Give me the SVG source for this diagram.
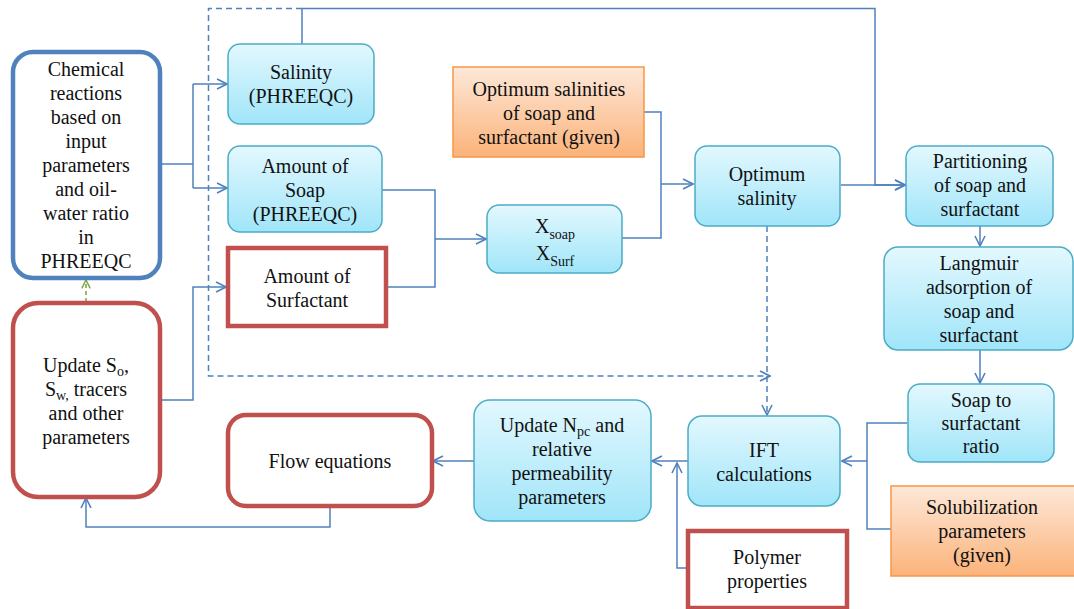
<svg xmlns="http://www.w3.org/2000/svg" width="1074" height="609" viewBox="0 0 1074 609">
<defs>
<linearGradient id="gb" x1="0" y1="0" x2="0" y2="1">
<stop offset="0" stop-color="#e3f8fe"/>
<stop offset="1" stop-color="#a0e5f9"/>
</linearGradient>
<linearGradient id="go" x1="0" y1="0" x2="0" y2="1">
<stop offset="0" stop-color="#fde8d9"/>
<stop offset="1" stop-color="#fbb37a"/>
</linearGradient>
<marker id="ar" viewBox="0 0 12 12" refX="11" refY="6" markerWidth="12" markerHeight="12" markerUnits="userSpaceOnUse" orient="auto">
<path d="M1,1 L11,6 L1,11" fill="none" stroke="#4f81bd" stroke-width="1.6"/>
</marker>
<marker id="ag" viewBox="0 0 12 12" refX="11" refY="6" markerWidth="10" markerHeight="10" markerUnits="userSpaceOnUse" orient="auto">
<path d="M1,1 L11,6 L1,11" fill="none" stroke="#77a03a" stroke-width="1.6"/>
</marker>
</defs>
<style>
text{font-family:"Liberation Serif","Times New Roman",serif;font-size:20px;fill:#111;text-anchor:middle}
.blue{fill:url(#gb);stroke:#4bacc6;stroke-width:1.5}
.org{fill:url(#go);stroke:#f79646;stroke-width:1.5}
.red{fill:#fff;stroke:#c0504d;stroke-width:4.5}
.bl{fill:#fff;stroke:#4f81bd;stroke-width:4.5}
.c{fill:none;stroke:#4f81bd;stroke-width:1.5}
.d{fill:none;stroke:#4f81bd;stroke-width:1.5;stroke-dasharray:6,4}
.sub{font-size:14px}
</style>
<g id="connectors">
<path class="d" d="M302,8.5 L208.5,8.5 L208.5,376 L770,376" marker-end="url(#ar)"/>
<path class="d" d="M767,226 L767,415" marker-end="url(#ar)"/>
<path class="c" d="M302,44 L302,8.5 L875,8.5 L875,185 L905,185" marker-end="url(#ar)"/>
<path class="c" d="M841,185 L905,185" marker-end="url(#ar)"/>
<path class="c" d="M160,164 L193,164"/>
<path class="c" d="M193,84 L193,188"/>
<path class="c" d="M193,84 L227,84" marker-end="url(#ar)"/>
<path class="c" d="M193,188 L227,188" marker-end="url(#ar)"/>
<path class="c" d="M160,400 L193,400 L193,287 L226,287" marker-end="url(#ar)"/>
<path class="c" d="M382,190 L435,190 L435,287 L386,287"/>
<path class="c" d="M435,239 L486,239" marker-end="url(#ar)"/>
<path class="c" d="M622,238 L661,238 L661,112 L644,112"/>
<path class="c" d="M661,184 L693,184" marker-end="url(#ar)"/>
<path class="c" d="M980,226 L980,246" marker-end="url(#ar)"/>
<path class="c" d="M980,350 L980,383" marker-end="url(#ar)"/>
<path class="c" d="M907,423 L867,423 L867,529 L891,529"/>
<path class="c" d="M867,461 L842,461" marker-end="url(#ar)"/>
<path class="c" d="M688,461 L652,461" marker-end="url(#ar)"/>
<path class="c" d="M686,568 L677,568 L677,463" marker-end="url(#ar)"/>
<path class="c" d="M474,461 L433,461" marker-end="url(#ar)"/>
<path class="c" d="M330,506 L330,527 L86,527 L86,498" marker-end="url(#ar)"/>
<path d="M86,302 L86,280" fill="none" stroke="#77a03a" stroke-width="1.5" stroke-dasharray="4,3" marker-end="url(#ag)"/>
</g>
<g id="chem">
<rect class="bl" x="13" y="52" width="147" height="226" rx="20"/>
<text x="86" y="76">Chemical</text>
<text x="86" y="100">reactions</text>
<text x="86" y="124">based on</text>
<text x="86" y="148">input</text>
<text x="86" y="172">parameters</text>
<text x="86" y="196">and oil-</text>
<text x="86" y="220">water ratio</text>
<text x="86" y="244">in</text>
<text x="86" y="268">PHREEQC</text>
</g>
<g id="update">
<rect class="red" x="13" y="303" width="147" height="194" rx="25"/>
<text x="86" y="372">Update  S<tspan class="sub" dy="4">o</tspan><tspan dy="-4">,</tspan></text>
<text x="86" y="396">S<tspan class="sub" dy="4">w,</tspan><tspan dy="-4"> tracers</tspan></text>
<text x="86" y="420">and other</text>
<text x="86" y="444">parameters</text>
</g>
<g id="salinity">
<rect class="blue" x="228" y="44" width="146" height="80" rx="12"/>
<text x="301" y="79">Salinity</text>
<text x="301" y="103">(PHREEQC)</text>
</g>
<g id="soap">
<rect class="blue" x="228" y="146" width="154" height="86" rx="12"/>
<text x="305" y="173">Amount of</text>
<text x="305" y="197">Soap</text>
<text x="305" y="221">(PHREEQC)</text>
</g>
<g id="surf">
<rect class="red" x="228" y="248" width="158" height="78"/>
<text x="307" y="283">Amount of</text>
<text x="307" y="307">Surfactant</text>
</g>
<g id="flow">
<rect class="red" x="228" y="415" width="204" height="91" rx="18"/>
<text x="330" y="468">Flow equations</text>
</g>
<g id="optgiven">
<rect class="org" x="453" y="67" width="191" height="90"/>
<text x="549" y="96">Optimum salinities</text>
<text x="549" y="120">of soap and</text>
<text x="549" y="144">surfactant  (given)</text>
</g>
<g id="xsoap">
<rect class="blue" x="487" y="205" width="135" height="68" rx="12"/>
<text x="555" y="233">X<tspan class="sub" dy="6">soap</tspan></text>
<text x="555" y="260">X<tspan class="sub" dy="6">Surf</tspan></text>
</g>
<g id="optsal">
<rect class="blue" x="695" y="146" width="145" height="80" rx="12"/>
<text x="767" y="181">Optimum</text>
<text x="767" y="205">salinity</text>
</g>
<g id="partition">
<rect class="blue" x="906" y="146" width="147" height="80" rx="12"/>
<text x="980" y="168">Partitioning</text>
<text x="980" y="192">of soap and</text>
<text x="980" y="216">surfactant</text>
</g>
<g id="langmuir">
<rect class="blue" x="884" y="247" width="189" height="103" rx="14"/>
<text x="979" y="270">Langmuir</text>
<text x="979" y="294">adsorption of</text>
<text x="979" y="318">soap and</text>
<text x="979" y="342">surfactant</text>
</g>
<g id="ratio">
<rect class="blue" x="908" y="384" width="146" height="78" rx="12"/>
<text x="981" y="407">Soap to</text>
<text x="981" y="430">surfactant</text>
<text x="981" y="453">ratio</text>
</g>
<g id="solub">
<rect class="org" x="891" y="486" width="190" height="90"/>
<text x="982" y="514">Solubilization</text>
<text x="982" y="538">parameters</text>
<text x="982" y="562">(given)</text>
</g>
<g id="ift">
<rect class="blue" x="688" y="416" width="152" height="90" rx="14"/>
<text x="764" y="457">IFT</text>
<text x="764" y="481">calculations</text>
</g>
<g id="npc">
<rect class="blue" x="474" y="400" width="177" height="121" rx="16"/>
<text x="562" y="432">Update  N<tspan class="sub" dy="4">pc</tspan><tspan dy="-4"> and</tspan></text>
<text x="562" y="456">relative</text>
<text x="562" y="480">permeability</text>
<text x="562" y="504">parameters</text>
</g>
<g id="polymer">
<rect class="red" x="688" y="531" width="159" height="77"/>
<text x="767" y="564">Polymer</text>
<text x="767" y="588">properties</text>
</g>
</svg>
